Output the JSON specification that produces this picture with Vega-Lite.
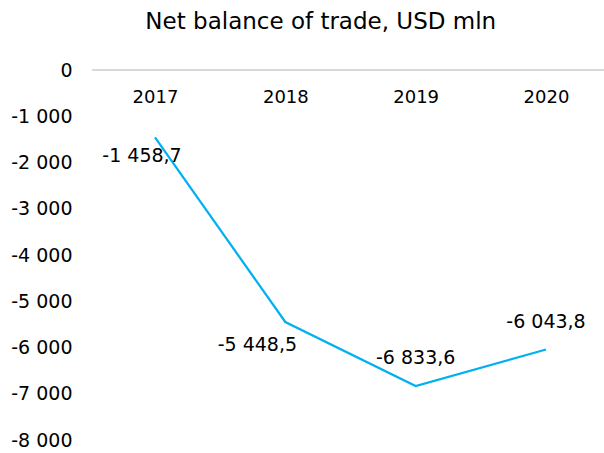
{
  "$schema": "https://vega.github.io/schema/vega-lite/v6.json",
  "autosize": "none",
  "width": 512,
  "height": 370,
  "padding": {"left": 92, "top": 70, "right": 0, "bottom": 13},
  "background": "white",
  "config": {
    "view": {"stroke": null},
    "font": "DejaVu Sans",
    "axis": {"labelFont": "DejaVu Sans", "labelColor": "#000000"}
  },
  "title": {
    "text": "Net balance of trade, USD mln",
    "font": "DejaVu Sans",
    "fontSize": 23,
    "fontWeight": "normal",
    "color": "#000000",
    "anchor": "middle",
    "frame": "bounds",
    "offset": 27,
    "dx": 13
  },
  "data": {
    "values": [
      {"year": "2017", "value": -1458.7, "label": "-1 458,7"},
      {"year": "2018", "value": -5448.5, "label": "-5 448,5"},
      {"year": "2019", "value": -6833.6, "label": "-6 833,6"},
      {"year": "2020", "value": -6043.8, "label": "-6 043,8"}
    ]
  },
  "layer": [
    {
      "mark": {"type": "rule", "color": "#d9d9d9", "strokeWidth": 1.5},
      "encoding": {"y": {"datum": 0, "type": "quantitative", "scale": {"domain": [-8000, 0], "nice": false}}}
    },
    {
      "encoding": {
        "x": {
          "field": "year",
          "type": "ordinal",
          "scale": {"type": "point", "range": [63, 454], "padding": 0},
          "axis": {
            "title": null,
            "orient": "bottom",
            "offset": -370,
            "labelAngle": 0,
            "ticks": false,
            "domain": false,
            "labelPadding": 18,
            "labelFontSize": 18
          }
        },
        "y": {
          "field": "value",
          "type": "quantitative",
          "scale": {"domain": [-8000, 0], "nice": false},
          "axis": {
            "title": null,
            "values": [0, -1000, -2000, -3000, -4000, -5000, -6000, -7000, -8000],
            "labelExpr": "(datum.value < 0 ? '-' : '') + replace(format(abs(datum.value), ','), ',', ' ')",
            "grid": false,
            "ticks": false,
            "domain": false,
            "labelPadding": 20,
            "labelFontSize": 19
          }
        }
      },
      "layer": [
        {
          "mark": {"type": "line", "color": "#00B0F0", "strokeWidth": 2.25}
        },
        {
          "transform": [{"filter": "datum.year == '2017'"}],
          "mark": {"type": "text", "fontSize": 19, "color": "#000000", "dx": -13, "dy": 19},
          "encoding": {"text": {"field": "label"}}
        },
        {
          "transform": [{"filter": "datum.year == '2018'"}],
          "mark": {"type": "text", "fontSize": 19, "color": "#000000", "dx": -28, "dy": 23},
          "encoding": {"text": {"field": "label"}}
        },
        {
          "transform": [{"filter": "datum.year == '2019' || datum.year == '2020'"}],
          "mark": {"type": "text", "fontSize": 19, "color": "#000000", "dy": -28},
          "encoding": {"text": {"field": "label"}}
        }
      ]
    }
  ]
}
